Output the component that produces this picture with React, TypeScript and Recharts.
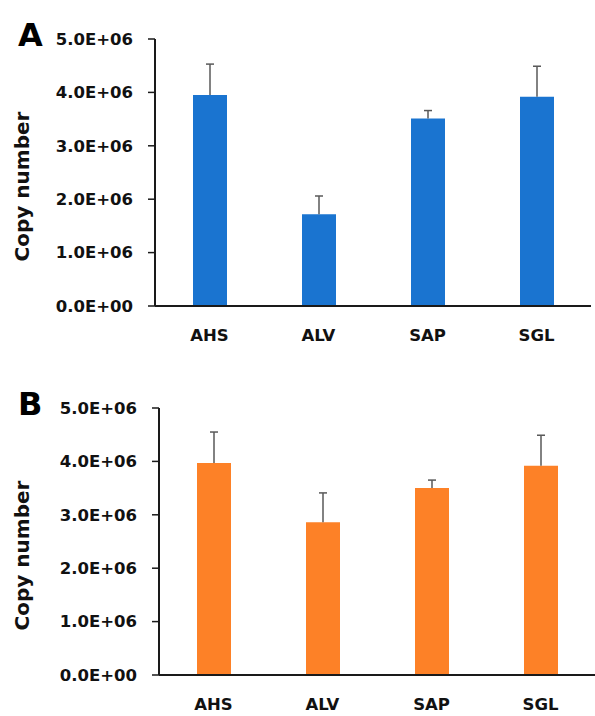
import { BarChart, Bar, XAxis, YAxis } from 'recharts';

const sites = ['AHS', 'ALV', 'SAP', 'SGL'];
const copiesA = [3.95e6, 1.72e6, 3.51e6, 3.92e6];
const errA = [0.58e6, 0.34e6, 0.15e6, 0.57e6];
const copiesB = [3.97e6, 2.86e6, 3.5e6, 3.92e6];
const errB = [0.58e6, 0.55e6, 0.15e6, 0.57e6];
const yTicks = [0, 1e6, 2e6, 3e6, 4e6, 5e6];
const yTickLabels = ['0.0E+00', '1.0E+06', '2.0E+06', '3.0E+06', '4.0E+06', '5.0E+06'];

const FONT = '"DejaVu Sans", sans-serif';

const buildRows = (vals: number[], errs: number[]) =>
  sites.map((s, i) => ({ site: s, copies: vals[i], err: errs[i] }));

// upper-only whisker, drawn as a stacked segment on top of the bar
const Whisker = (props: any) => {
  const { x, y, width, height } = props;
  const cx = x + width / 2;
  return (
    <g stroke="#595959" strokeWidth={1.5}>
      <line x1={cx} x2={cx} y1={y} y2={y + height} />
      <line x1={cx - 4} x2={cx + 4} y1={y} y2={y} />
    </g>
  );
};

const YLabel = (props: any) => {
  const { viewBox } = props;
  const x = viewBox.x + 22;
  const y = viewBox.y + viewBox.height / 2 + 14;
  return (
    <text
      x={x}
      y={y}
      transform={`rotate(-90 ${x} ${y})`}
      textAnchor="middle"
      dominantBaseline="central"
      fontFamily={FONT}
      fontWeight="bold"
      fontSize={20}
      fill="#111"
    >
      Copy number
    </text>
  );
};

const Panel = ({ letter, vals, errs, color, top, height, marginTop, yWidth, marginRight }: any) => (
  <div style={{ position: 'absolute', left: 0, top, width: 595, height }}>
    <BarChart
      width={595}
      height={height}
      data={buildRows(vals, errs)}
      margin={{ top: marginTop, right: marginRight, left: 0, bottom: 0 }}
      barCategoryGap={0}
    >
      <XAxis
        dataKey="site"
        height={height - marginTop - 267}
        axisLine={{ stroke: '#1a1a1a', strokeWidth: 2 }}
        tickLine={false}
        tickMargin={17}
        tick={{ fontFamily: FONT, fontWeight: 'bold', fontSize: 16.5, fill: '#111' }}
      />
      <YAxis
        width={yWidth}
        domain={[0, 5e6]}
        ticks={yTicks}
        interval={0}
        tickFormatter={(v: number) => yTickLabels[yTicks.indexOf(v)]}
        axisLine={{ stroke: '#1a1a1a', strokeWidth: 2 }}
        tickLine={{ stroke: '#1a1a1a', strokeWidth: 1.5 }}
        tickSize={7}
        tickMargin={15}
        tick={{ fontFamily: FONT, fontWeight: 'bold', fontSize: 16.5, fill: '#111' }}
        label={<YLabel />}
      />
      <Bar dataKey="copies" stackId="s" fill={color} barSize={34} isAnimationActive={false} />
      <Bar dataKey="err" stackId="s" barSize={34} shape={<Whisker />} isAnimationActive={false} />
    </BarChart>
    <div
      style={{
        position: 'absolute',
        left: 18,
        top: marginTop - 20,
        fontFamily: FONT,
        fontWeight: 'bold',
        fontSize: 32,
        lineHeight: '32px',
        color: '#000',
      }}
    >
      {letter}
    </div>
  </div>
);

export default function App() {
  return (
    <div style={{ position: 'absolute', left: 0, top: 0, width: 595, height: 716, background: '#fff' }}>
      <Panel letter="A" vals={copiesA} errs={errA} color="#1A74D0" top={0} height={350} marginTop={39} yWidth={155} marginRight={4} />
      <Panel letter="B" vals={copiesB} errs={errB} color="#FD8127" top={358} height={358} marginTop={50} yWidth={159} marginRight={0} />
    </div>
  );
}
